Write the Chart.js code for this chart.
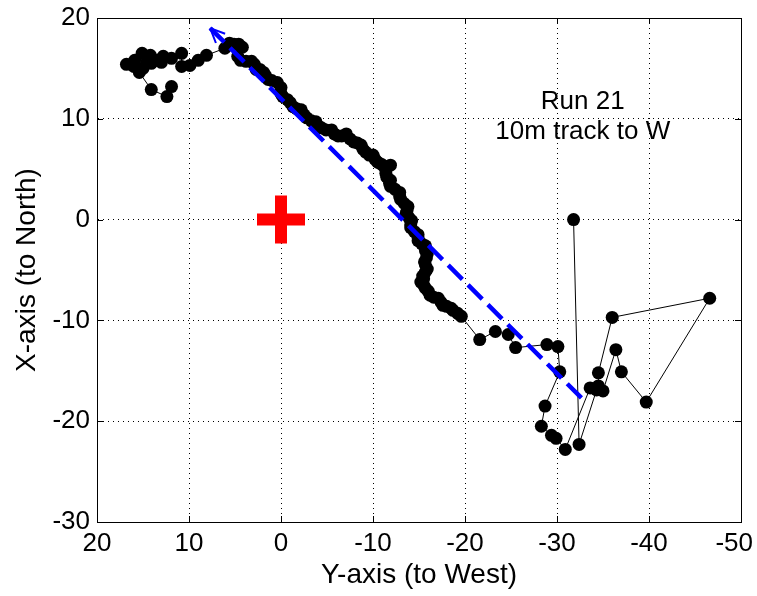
<!DOCTYPE html>
<html>
<head>
<meta charset="utf-8">
<script src="https://cdn.jsdelivr.net/npm/chart.js@4.4.0/dist/chart.umd.min.js"></script>
<style>
  html, body { margin: 0; padding: 0; background: #fff; }
  #wrap { width: 757px; height: 596px; }
</style>
</head>
<body>
<div id="wrap"><canvas id="track" width="757" height="596"></canvas></div>
<script>
// Run 21 position track (metres). Horizontal = Y (to West), vertical = X (to North).
const trackWest = [
  // start cluster
  11.9, 12.4, 14.1, 15.4, 15.0, 16.0, 16.8, 15.9, 15.1, 14.6, 14.2, 14.1, 13.4, 13.0, 12.8, 11.9,
  10.8, 10.8, 9.9, 9.0, 8.1,
  // steady run down the diagonal
  6.1, 5.6, 5.1, 4.6, 4.2, 4.7, 4.4, 3.8, 3.2, 2.9, 2.7, 2.3, 1.9, 1.7, 1.4, 1.0, 0.4, 0.0,
  0.0, -0.2, -0.7, -1.0, -1.3, -1.7, -2.2, -2.5, -2.8, -3.3, -3.8, -4.0, -4.4, -4.9, -5.5, -5.8,
  -6.2, -6.6, -7.1, -7.5, -7.9, -8.3, -8.7, -8.9, -9.2, -9.6, -10.0, -10.2, -10.5, -10.9, -11.2,
  -11.9, -11.4, -11.4, -11.5, -11.9, -11.8, -11.9, -12.4, -12.9, -12.9, -13.0, -13.4, -13.8, -13.7,
  -13.6, -13.9, -14.2, -14.1, -14.1, -14.5, -14.9, -14.9, -14.9, -15.3, -15.7, -15.7, -15.9, -15.8,
  -15.6, -15.7, -15.9, -15.7, -15.4, -15.5, -15.2, -15.5, -15.7, -16.0, -16.2, -16.6, -17.1, -17.4,
  -17.6, -18.0, -18.5, -18.7, -19.2, -19.6,
  // scattered fixes at the far end
  -21.6, -23.3, -24.7, -25.5, -28.9, -30.1, -30.3, -28.7, -28.3, -29.4, -29.9, -30.9, -33.6, -34.5,
  -34.5, -36.0, -46.6, -39.7, -37.0, -36.4, -35.0, -34.3, -32.4, -31.8
];
const trackNorth = [
  13.2, 12.2, 12.9, 14.6, 15.0, 15.2, 15.4, 15.8, 16.5, 15.6, 16.3, 15.5, 15.8, 15.6, 16.2, 16.0,
  16.5, 15.2, 15.3, 15.8, 16.3,
  17.0, 17.5, 17.4, 17.4, 17.1, 16.2, 15.8, 15.7, 15.7, 15.4, 14.9, 14.9, 14.6, 14.3, 13.9, 13.8, 13.6, 13.1,
  12.5, 12.2, 11.9, 11.6, 11.2, 11.0, 10.9, 10.4, 10.1, 9.8, 9.7, 9.3, 9.1, 8.9, 8.9, 8.5,
  8.3, 8.3, 8.5, 8.0, 7.7, 7.6, 7.4, 7.0, 6.7, 6.4, 6.4, 6.0, 5.7, 5.5, 5.3,
  5.4, 5.0, 4.6, 4.2, 3.9, 3.6, 3.3, 3.0, 2.7, 2.3, 2.0, 1.6, 1.3, 0.9,
  0.6, 0.2, -0.1, -0.5, -0.8, -1.2, -1.5, -1.8, -2.1, -2.4, -2.6, -3.1, -3.4, -3.8,
  -4.2, -4.5, -4.9, -5.2, -5.6, -5.9, -6.2, -6.5, -6.8, -7.1, -7.5, -7.7, -7.8, -8.2,
  -8.5, -8.6, -8.8, -9.0, -9.3, -9.6,
  -11.9, -11.1, -11.4, -12.7, -12.4, -12.6, -15.1, -18.5, -20.5, -21.4, -21.7, -22.8, -16.7, -16.5,
  -15.2, -9.7, -7.8, -18.1, -15.1, -12.9, -17.0, -16.9, -22.3, 0.0
];

// straight-line fit of the track, drawn from its head (arrow) to its tail
const fitWest = [7.7, -33.0];
const fitNorth = [19.0, -18.0];

// start position
const originWest = [0];
const originNorth = [0];

const westTicks = [20, 10, 0, -10, -20, -30, -40, -50];
const northTicks = [20, 10, 0, -10, -20, -30];
const noteLines = ['Run 21', '10m track to W'];

const FONT = '"Liberation Sans", Arial, Helvetica, sans-serif';
const FONT_SIZE = 26;
const TITLE_SIZE = 28;
const NOTE_AT = { west: -32.8, north: 11.7 };

const toPoints = (xs, ys) => xs.map((v, i) => ({ x: v, y: ys[i] }));

// box, inward tick marks, x tick labels, note text and arrow head
const framePlugin = {
  id: 'frame',
  afterDatasetsDraw(chart) {
    const { ctx, scales: { x, y } } = chart;
    const tipX = x.getPixelForValue(fitWest[0]);
    const tipY = y.getPixelForValue(fitNorth[0]);
    const tailX = x.getPixelForValue(fitWest[1]);
    const tailY = y.getPixelForValue(fitNorth[1]);
    const ang = Math.atan2(tailY - tipY, tailX - tipX);
    ctx.save();
    ctx.strokeStyle = '#0000ff';
    ctx.lineWidth = 2;
    ctx.beginPath();
    [-0.42, 0.42].forEach(d => {
      ctx.moveTo(tipX, tipY);
      ctx.lineTo(tipX + 16 * Math.cos(ang + d), tipY + 16 * Math.sin(ang + d));
    });
    ctx.stroke();
    ctx.restore();
  },
  afterDraw(chart) {
    const { ctx, chartArea: a, scales: { x, y } } = chart;
    ctx.save();
    ctx.strokeStyle = '#000';
    ctx.lineWidth = 1;
    ctx.strokeRect(Math.round(a.left) + 0.5, Math.round(a.top) + 0.5,
      Math.round(a.right - a.left), Math.round(a.bottom - a.top));

    const tl = 6;
    ctx.beginPath();
    westTicks.forEach(v => {
      const px = Math.round(x.getPixelForValue(v)) + 0.5;
      ctx.moveTo(px, a.bottom); ctx.lineTo(px, a.bottom - tl);
      ctx.moveTo(px, a.top); ctx.lineTo(px, a.top + tl);
    });
    northTicks.forEach(v => {
      const py = Math.round(y.getPixelForValue(v)) + 0.5;
      ctx.moveTo(a.left, py); ctx.lineTo(a.left + tl, py);
      ctx.moveTo(a.right, py); ctx.lineTo(a.right - tl, py);
    });
    ctx.stroke();

    // x tick labels; the last one is kept inside the canvas
    ctx.fillStyle = '#000';
    ctx.font = FONT_SIZE + 'px ' + FONT;
    ctx.textAlign = 'center';
    ctx.textBaseline = 'middle';
    westTicks.forEach(v => {
      const txt = String(v);
      const w = ctx.measureText(txt).width;
      const px = Math.min(x.getPixelForValue(v), chart.width - 4 - w / 2);
      ctx.fillText(txt, px, a.bottom + 22);
    });

    const nx = x.getPixelForValue(NOTE_AT.west);
    const ny = y.getPixelForValue(NOTE_AT.north);
    noteLines.forEach((t, i) => ctx.fillText(t, nx, ny + i * 30));
    ctx.restore();
  }
};

new Chart(document.getElementById('track'), {
  type: 'scatter',
  data: {
    datasets: [
      {
        label: 'fit',
        data: toPoints(fitWest, fitNorth),
        showLine: true,
        borderColor: '#0000ff',
        borderWidth: 4.5,
        borderDash: [20, 8],
        pointRadius: 0
      },
      {
        label: 'origin',
        data: toPoints(originWest, originNorth),
        pointStyle: 'cross',
        pointRadius: 24,
        pointBorderWidth: 12,
        pointBorderColor: '#ff0000',
        pointBackgroundColor: '#ff0000'
      },
      {
        label: 'track',
        data: toPoints(trackWest, trackNorth),
        showLine: true,
        borderColor: '#000',
        borderWidth: 1,
        pointRadius: 6.5,
        pointBorderWidth: 0,
        pointBackgroundColor: '#000',
        tension: 0
      }
    ]
  },
  options: {
    responsive: false,
    animation: false,
    events: [],
    layout: { autoPadding: false, padding: { top: 18, right: 16, left: 0, bottom: 0 } },
    plugins: { legend: { display: false }, tooltip: { enabled: false } },
    scales: {
      x: {
        type: 'linear',
        reverse: true,
        min: -50,
        max: 20,
        afterBuildTicks: s => { s.ticks = westTicks.map(v => ({ value: v })); },
        ticks: { display: false },
        grid: { color: '#000', lineWidth: 1, drawTicks: false },
        border: { display: true, color: '#000', dash: [1, 4] },
        title: {
          display: true, text: 'Y-axis (to West)', color: '#000',
          font: { family: FONT, size: TITLE_SIZE }, padding: { top: 0, bottom: 4 }
        },
        afterFit: s => {
          s.height = 74;
          s.paddingLeft = 0; s.paddingRight = 0;
        }
      },
      y: {
        type: 'linear',
        min: -30,
        max: 20,
        afterBuildTicks: s => { s.ticks = northTicks.map(v => ({ value: v })); },
        ticks: { color: '#000', padding: 7, font: { family: FONT, size: FONT_SIZE } },
        grid: { color: '#000', lineWidth: 1, drawTicks: false },
        border: { display: true, color: '#000', dash: [1, 4] },
        title: {
          display: true, text: 'X-axis (to North)', color: '#000',
          font: { family: FONT, size: TITLE_SIZE }, padding: { top: 10, bottom: 0 }
        },
        afterFit: s => {
          s.width = 97;
          s.paddingTop = 0; s.paddingBottom = 0;
        }
      }
    }
  },
  plugins: [framePlugin]
});
</script>
</body>
</html>
